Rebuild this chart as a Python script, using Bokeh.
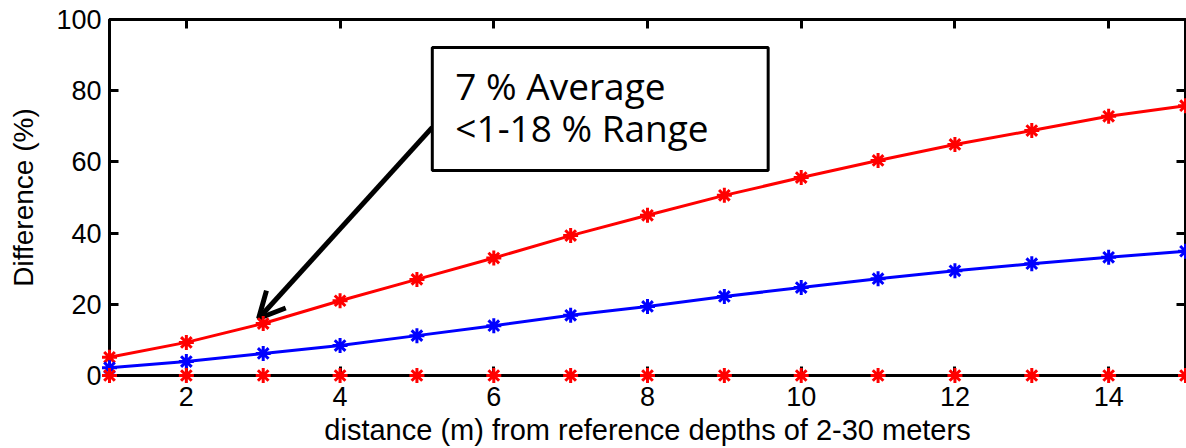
from bokeh.plotting import figure
from bokeh.models import (Range1d, LinearAxis, FixedTicker, BoxAnnotation, Label,
                          Arrow, OpenHead)
from bokeh.embed import file_html
from bokeh.resources import INLINE

# distance from the reference depth (m)
distance = list(range(1, 16))
# difference (%) for the three cases
upper_red = [5.1, 9.3, 14.6, 21.0, 27.0, 33.0, 39.3, 45.0, 50.6, 55.6, 60.4, 64.9, 68.8, 72.8, 75.8]
blue = [2.2, 3.9, 6.2, 8.4, 11.2, 14.0, 16.9, 19.4, 22.2, 24.7, 27.2, 29.4, 31.4, 33.2, 34.9]
lower_red = [0] * 15

x_ticks = [2, 4, 6, 8, 10, 12, 14]
y_ticks = [0, 20, 40, 60, 80, 100]

FONT = "Liberation Sans"

p = figure(width=1186, height=448, output_backend="svg", toolbar_location=None,
           x_range=Range1d(1, 15), y_range=Range1d(0, 100),
           x_axis_location=None, y_axis_location=None,
           min_border_left=109, min_border_right=1, min_border_top=19,
           min_border_bottom=73)
p.grid.visible = False
p.outline_line_color = "black"
p.outline_line_width = 3
p.background_fill_color = "white"
p.border_fill_color = "white"


def style_axis(ax, ticks, show_labels):
    ax.ticker = FixedTicker(ticks=ticks)
    ax.axis_line_color = "black"
    ax.axis_line_width = 3
    ax.major_tick_line_width = 3
    ax.major_tick_in = 9
    ax.major_tick_out = 0
    ax.minor_tick_line_color = None
    ax.major_label_text_font = FONT
    ax.major_label_text_color = "black"
    ax.axis_label_text_font = FONT
    ax.axis_label_text_font_style = "normal"
    ax.axis_label_text_color = "black"
    if show_labels:
        ax.major_label_text_font_size = "27px"
        ax.axis_label_text_font_size = "29px"
    else:
        # mirrored box edges: ticks only
        ax.major_label_text_font_size = "0px"
        ax.major_label_standoff = 0
        ax.axis_label = None


bottom = LinearAxis(axis_label="distance (m) from reference depths of 2-30 meters")
style_axis(bottom, x_ticks, True)
bottom.major_label_standoff = 11
bottom.axis_label_standoff = 5
p.add_layout(bottom, "below")

left = LinearAxis(axis_label="Difference (%)")
style_axis(left, y_ticks, True)
left.axis_label_text_font_size = "28px"
left.major_label_standoff = 8
left.axis_label_standoff = 14
p.add_layout(left, "left")

top = LinearAxis()
style_axis(top, x_ticks, False)
p.add_layout(top, "above")

right = LinearAxis()
style_axis(right, y_ticks, False)
p.add_layout(right, "right")

# series
p.line(distance, upper_red, line_color="red", line_width=3)
p.line(distance, blue, line_color="blue", line_width=3)
for ys, col in [(upper_red, "red"), (blue, "blue"), (lower_red, "red")]:
    r = p.scatter(distance, ys, marker="asterisk", size=15, line_color=col, line_width=3)
    r.level = "overlay"

# callout arrow and text box
p.add_layout(Arrow(end=OpenHead(size=26, line_width=5, line_color="black"),
                   x_start=5.2, y_start=69.7, x_end=2.94, y_end=16.0,
                   line_width=5, line_color="black"))
p.add_layout(BoxAnnotation(left=5.2, right=9.57, bottom=57.6, top=92.1,
                           fill_color="white", fill_alpha=1.0,
                           line_color="black", line_width=3, line_alpha=1.0))
for txt, yy in [("7 % Average", 81.5), ("<1-18 % Range", 69.7)]:
    p.add_layout(Label(x=5.50, y=yy, text=txt, text_font="Open Sans",
                       text_font_size="37px", text_baseline="middle",
                       text_align="left", text_color="black"))

open("out.html", "w").write(file_html(p, INLINE))
